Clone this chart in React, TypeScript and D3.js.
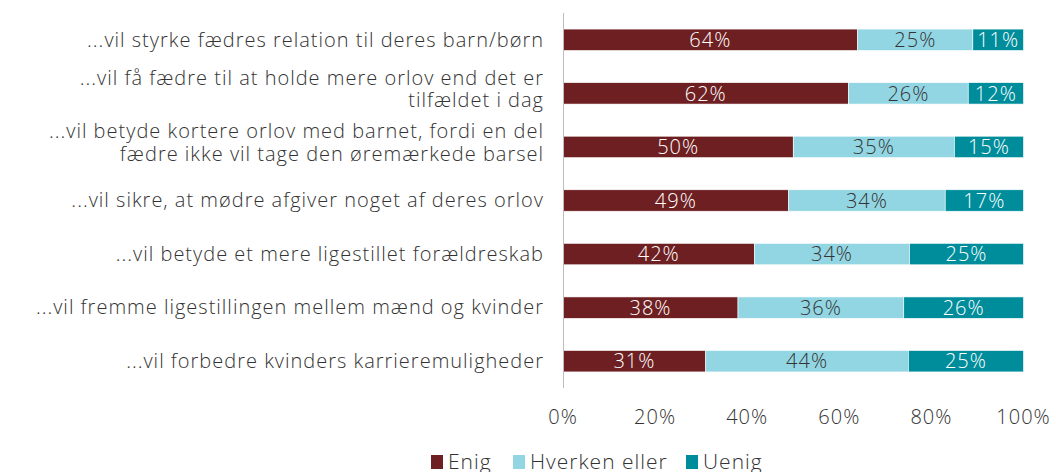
import React from "react";
import * as d3 from "d3";

const categories: string[][] = [
  ["...vil styrke fædres relation til deres barn/børn"],
  ["...vil få fædre til at holde mere orlov end det er", "tilfældet i dag"],
  ["...vil betyde kortere orlov med barnet, fordi en del", "fædre ikke vil tage den øremærkede barsel"],
  ["...vil sikre, at mødre afgiver noget af deres orlov"],
  ["...vil betyde et mere ligestillet forældreskab"],
  ["...vil fremme ligestillingen mellem mænd og kvinder"],
  ["...vil forbedre kvinders karrieremuligheder"],
];
const seriesNames = ["Enig", "Hverken eller", "Uenig"];
const enig = [64, 62, 50, 49, 42, 38, 31];
const hverken = [25, 26, 35, 34, 34, 36, 44];
const uenig = [11, 12, 15, 17, 25, 26, 25];
const tickValues = [0, 0.2, 0.4, 0.6, 0.8, 1];

const colors = ["#6e1f22", "#93d6e3", "#008d9b"];
const textColors = ["#ffffff", "#333333", "#ffffff"];
const FONT = "'Open Sans', Lato, sans-serif";

export default function App() {
  const W = 1056, H = 472;
  const rows = categories.map((c, i) => ({ key: i, Enig: enig[i], "Hverken eller": hverken[i], Uenig: uenig[i] }));
  const stack = d3.stack<any>().keys(seriesNames).offset(d3.stackOffsetExpand);
  const layers = stack(rows);
  const x = d3.scaleLinear().domain([0, 1]).range([563, 1023.5]);
  const y = d3.scaleBand<number>().domain(d3.range(categories.length)).range([13, 388]).paddingInner(0.6).paddingOuter(0.3);
  const vals = [enig, hverken, uenig];
  const legendX = [431, 513, 686];
  return (
    <svg width={W} height={H} style={{ position: "absolute", left: 0, top: 0, background: "#fff" }} fontFamily={FONT} fontWeight={300} letterSpacing={1}>
      {layers.map((layer, si) => (
        <g key={si}>
          {layer.map((d, i) => {
            const x0 = x(d[0]), x1 = x(d[1]);
            return (
              <g key={i}>
                <rect x={x0} y={y(i)!} width={x1 - x0} height={y.bandwidth()} fill={colors[si]} stroke="#ffffff" strokeWidth={0.6} />
                <text x={(x0 + x1) / 2} y={y(i)! + y.bandwidth() / 2} dy="0.36em" textAnchor="middle" fontSize={20} fill={textColors[si]}>
                  {vals[si][i]}%
                </text>
              </g>
            );
          })}
        </g>
      ))}
      <line x1={563.5} x2={563.5} y1={13} y2={388} stroke="#bdbdbd" strokeWidth={1} />
      {categories.map((lines, i) => {
        const cy = y(i)! + y.bandwidth() / 2 - (lines.length > 1 ? 4 : 0);
        const lh = 22.5;
        return (
          <text key={i} x={544} textAnchor="end" fontSize={20} fill="#333333">
            {lines.map((l, j) => (
              <tspan key={j} x={544} y={cy + (j - (lines.length - 1) / 2) * lh} dy="0.34em">{l}</tspan>
            ))}
          </text>
        );
      })}
      {tickValues.map((t) => (
        <text key={t} x={x(t)} y={417} dy="0.36em" textAnchor="middle" fontSize={20} fill="#333333">
          {d3.format(".0%")(t)}
        </text>
      ))}
      {seriesNames.map((s, i) => (
        <g key={s}>
          <rect x={legendX[i]} y={455} width={12} height={14} fill={colors[i]} />
          <text x={legendX[i] + 17} y={468.5} fontSize={21} fill="#333333">{s}</text>
        </g>
      ))}
    </svg>
  );
}
